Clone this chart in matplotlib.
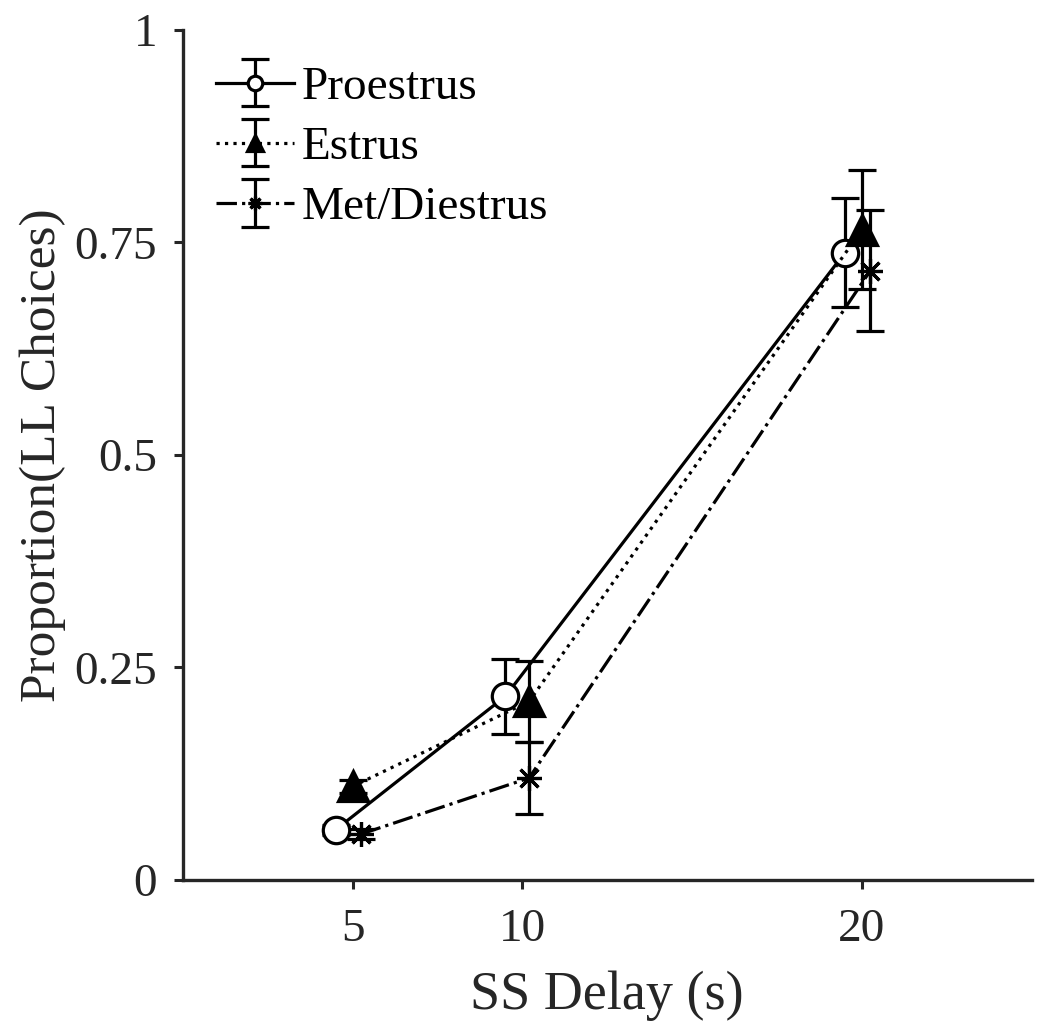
#!/usr/bin/env python3
"""
Proportion of LL choices vs SS delay, by estrous phase.
"""

import matplotlib
matplotlib.use('Agg')
import matplotlib.pyplot as plt

# --- Data
labels = ['Proestrus', 'Estrus', 'Met/Diestrus']

pro_x = [4.5, 9.5, 19.5]
pro_y = [0.059, 0.216, 0.738]
pro_err = [0.006, 0.044, 0.064]

est_x = [5.0, 10.2, 20.0]
est_y = [0.110, 0.210, 0.765]
est_err = [0.008, 0.048, 0.070]

met_x = [5.25, 10.2, 20.25]
met_y = [0.054, 0.120, 0.717]
met_err = [0.006, 0.042, 0.071]

xticks = [5, 10, 20]
yticks = [0, 0.25, 0.5, 0.75, 1]
yticklabels = ['0', '0.25', '0.5', '0.75', '1']

ink = '#262626'
plt.rcParams['font.family'] = ['Liberation Serif', 'DejaVu Serif']

fig = plt.figure(figsize=(10.5, 10.36), dpi=100)
ax = fig.add_axes([0.174, 0.1506, 0.8086, 0.8205])

common = dict(color='black', lw=2.3, elinewidth=2.3, capsize=10, capthick=2.3,
              markeredgewidth=2.3)

ax.errorbar(pro_x, pro_y, yerr=pro_err, fmt='-', marker='o', ms=19,
            mfc='white', mec='black', label=labels[0], **common)
ax.errorbar(est_x, est_y, yerr=est_err, fmt=':', marker='^', ms=22,
            mfc='black', mec='black', label=labels[1], **common)
ax.errorbar(met_x, met_y, yerr=met_err, fmt='-.', marker=(8, 2, 0), ms=18,
            mfc='black', mec='black', label=labels[2], **common)

ax.set_xlim(0, 25)
ax.set_ylim(0, 1)
ax.set_xticks(xticks)
ax.set_yticks(yticks)
ax.set_yticklabels(yticklabels)

for side in ['top', 'right']:
    ax.spines[side].set_visible(False)
for side in ['left', 'bottom']:
    ax.spines[side].set_linewidth(2.4)
    ax.spines[side].set_color(ink)

ax.tick_params(axis='both', direction='out', length=6.5, width=2.2,
               colors=ink, labelsize=34, labelcolor=ink)
ax.tick_params(axis='y', pad=12)
ax.tick_params(axis='x', pad=14)

ax.set_xlabel('SS Delay (s)', fontsize=39, color=ink, labelpad=14)
ax.set_ylabel('Proportion(LL Choices)', fontsize=37, color=ink, labelpad=6)

ax.legend(loc='upper left', bbox_to_anchor=(0.012, 0.985), frameon=False,
          fontsize=34, markerscale=0.55, handlelength=1.65, handletextpad=0.15,
          labelspacing=0.36, borderpad=0)

fig.savefig('out.png', dpi=100)
